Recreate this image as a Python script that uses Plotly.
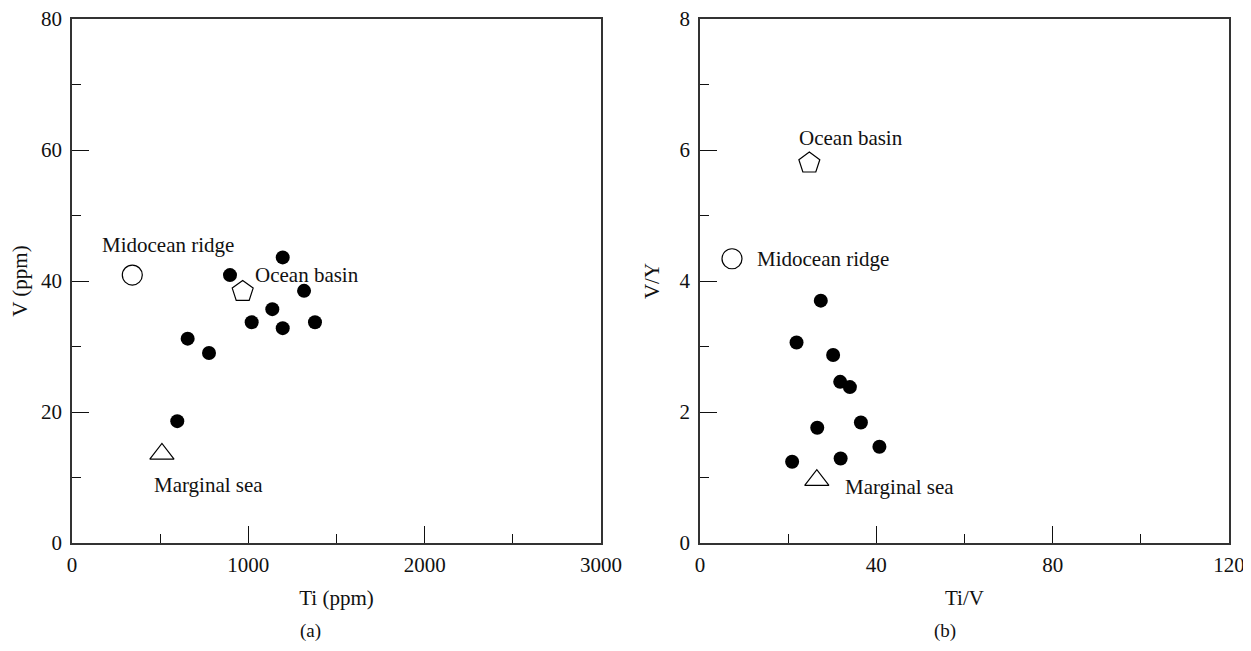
import plotly.graph_objects as go

# ---- data ----
# Panel (a): Ti (ppm) vs V (ppm)
ti_samples = [1195, 896, 1316, 1136, 1019, 1195, 1378, 656, 777, 597]
v_samples = [43.6, 40.9, 38.5, 35.7, 33.7, 32.8, 33.7, 31.2, 29.0, 18.6]

# Panel (b): Ti/V vs V/Y
tiv_samples = [27.4, 21.9, 30.2, 31.8, 34.0, 36.5, 26.6, 40.7, 31.9, 20.9]
vy_samples = [3.70, 3.06, 2.87, 2.46, 2.38, 1.84, 1.76, 1.47, 1.29, 1.24]

# Reference settings (a)
ref_names = ["Midocean ridge", "Ocean basin", "Marginal sea"]
ref_ti = [342, 968, 510]
ref_v = [40.9, 38.4, 13.6]
# Reference settings (b)
ref_tiv = [7.26, 24.8, 26.5]
ref_vy = [4.34, 5.80, 0.96]

# label anchor points (data units)
lab_a_x = [159, 1025, 452]
lab_a_y = [45.5, 40.9, 8.8]
lab_b_x = [12.5, 21.9, 32.4]
lab_b_y = [4.34, 6.19, 0.86]

FONT = "Liberation Serif"
FS = 21
INK = "#111111"

ref_symbols = ["circle-open", "pentagon-open", "triangle-up-open"]
ref_sizes = [20, 22, 21]

# the page body has an 8px margin; figure sized to fit the window
OFF = 8
W, H = 1251 - OFF, 651 - OFF


def px_x(p):
    return (p - OFF) / W


def px_y(p):
    return 1 - (p - OFF) / H


fig = go.Figure()

# panel (a)
fig.add_trace(go.Scatter(x=ti_samples, y=v_samples, mode="markers",
                         marker=dict(color="black", size=14),
                         xaxis="x", yaxis="y", showlegend=False))
for i in range(3):
    fig.add_trace(go.Scatter(x=[ref_ti[i]], y=[ref_v[i]], mode="markers",
                             marker=dict(symbol=ref_symbols[i], size=ref_sizes[i],
                                         color="black", line=dict(width=1.2, color="black")),
                             xaxis="x", yaxis="y", showlegend=False, name=ref_names[i]))
# panel (b)
fig.add_trace(go.Scatter(x=tiv_samples, y=vy_samples, mode="markers",
                         marker=dict(color="black", size=14),
                         xaxis="x2", yaxis="y2", showlegend=False))
for i in range(3):
    fig.add_trace(go.Scatter(x=[ref_tiv[i]], y=[ref_vy[i]], mode="markers",
                             marker=dict(symbol=ref_symbols[i], size=ref_sizes[i],
                                         color="black", line=dict(width=1.2, color="black")),
                             xaxis="x2", yaxis="y2", showlegend=False, name=ref_names[i]))

annotations = []
for i in range(3):
    annotations.append(dict(x=lab_a_x[i], y=lab_a_y[i], xref="x", yref="y",
                            text=ref_names[i], showarrow=False, xanchor="left", yanchor="middle",
                            font=dict(family=FONT, size=FS, color=INK)))
    annotations.append(dict(x=lab_b_x[i], y=lab_b_y[i], xref="x2", yref="y2",
                            text=ref_names[i], showarrow=False, xanchor="left", yanchor="middle",
                            font=dict(family=FONT, size=FS, color=INK)))
annotations.append(dict(x=px_x(310), y=px_y(631), xref="paper", yref="paper", text="(a)",
                        showarrow=False, xanchor="center", yanchor="middle",
                        font=dict(family=FONT, size=19, color=INK)))
annotations.append(dict(x=px_x(945), y=px_y(631), xref="paper", yref="paper", text="(b)",
                        showarrow=False, xanchor="center", yanchor="middle",
                        font=dict(family=FONT, size=19, color=INK)))


def axis_style(rng, dtick, minor_dtick, title, domain, anchor, standoff, lab_standoff):
    return dict(range=rng, domain=domain, anchor=anchor, tickmode="linear", tick0=0, dtick=dtick,
                ticks="inside", ticklen=17, tickwidth=1.3, tickcolor=INK,
                minor=dict(ticks="inside", ticklen=9, tickwidth=1.3, tickcolor=INK,
                           tickmode="linear", tick0=0, dtick=minor_dtick, showgrid=False),
                showline=True, linecolor="#333333", linewidth=1.5, mirror=True,
                showgrid=False, zeroline=False, automargin=False,
                ticklabelstandoff=lab_standoff, ticklabeloverflow="allow",
                tickfont=dict(family=FONT, size=FS, color=INK),
                title=dict(text=title, font=dict(family=FONT, size=FS, color=INK), standoff=standoff))


xd1 = [px_x(72), px_x(601)]
xd2 = [px_x(700), px_x(1229)]
yd = [px_y(543), px_y(19)]

fig.update_layout(
    width=W, height=H,
    margin=dict(l=0, r=0, t=0, b=0),
    paper_bgcolor="white", plot_bgcolor="white",
    template=None,
    xaxis=axis_style([0, 3000], 1000, 500, "Ti (ppm)", xd1, "y", 14, 2),
    yaxis=axis_style([0, 80], 20, 10, "V (ppm)", yd, "x", 14, 4),
    xaxis2=axis_style([0, 120], 40, 20, "Ti/V", xd2, "y2", 14, 2),
    yaxis2=axis_style([0, 8], 2, 1, "V/Y", yd, "x2", 14, 4),
    annotations=annotations,
)

fig.write_html("out.html")
